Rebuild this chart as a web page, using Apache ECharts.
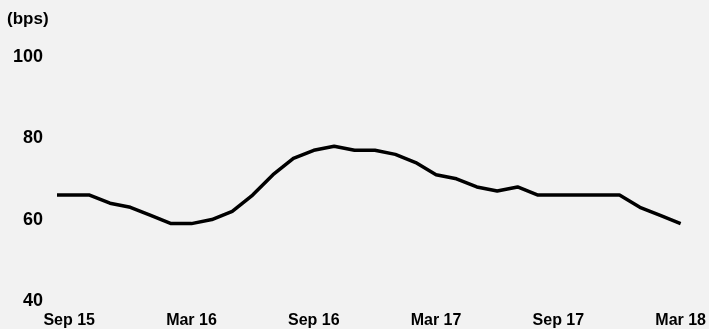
<!DOCTYPE html>
<html>
<head>
<meta charset="utf-8">
<script src="https://cdn.jsdelivr.net/npm/echarts@6/dist/echarts.min.js"></script>
<style>
html,body{margin:0;padding:0;background:#f2f2f2;}
#chart{width:709px;height:329px;}
</style>
</head>
<body>
<div id="chart"></div>
<script>
var months = ['Aug 15','Sep 15','Oct 15','Nov 15','Dec 15','Jan 16','Feb 16','Mar 16','Apr 16','May 16','Jun 16','Jul 16','Aug 16','Sep 16','Oct 16','Nov 16','Dec 16','Jan 17','Feb 17','Mar 17','Apr 17','May 17','Jun 17','Jul 17','Aug 17','Sep 17','Oct 17','Nov 17','Dec 17','Jan 18','Feb 18','Mar 18'];
var spreadBps = [66,66,66,64,63,61,59,59,60,62,66,71,75,77,78,77,77,76,74,71,70,68,67,68,66,66,66,66,66,63,61,59];
var xTickLabels = ['Sep 15','Mar 16','Sep 16','Mar 17','Sep 17','Mar 18'];
var yTicks = [40,60,80,100];
var unitLabel = '(bps)';

var firstTick = months.indexOf(xTickLabels[0]);
var seriesData = spreadBps.map(function(v,i){ return [i - firstTick, v]; });
var tickPos = xTickLabels.map(function(l){ return months.indexOf(l) - firstTick; });
var lastPos = months.length - 1 - firstTick;

var chart = echarts.init(document.getElementById('chart'), null, {renderer:'canvas'});
chart.setOption({
  backgroundColor:'#f2f2f2',
  animation:false,
  textStyle:{fontFamily:'Liberation Sans, Arial, sans-serif'},
  grid:{left:59, right:28, top:56.6, bottom:27.3, containLabel:false},
  graphic:[{type:'text', left:7, top:11, style:{text:unitLabel, fill:'#000', font:'bold 17px "Liberation Sans", Arial, sans-serif'}}],
  xAxis:{
    type:'value', min:-0.5, max:lastPos,
    axisLine:{show:false}, axisTick:{show:false}, splitLine:{show:false},
    axisLabel:{
      customValues: tickPos,
      showMinLabel:true, showMaxLabel:true,
      margin:12, color:'#000', fontWeight:'bold', fontSize:16,
      formatter:function(v){ var i = tickPos.indexOf(v); return i>=0 ? xTickLabels[i] : ''; }
    }
  },
  yAxis:{
    type:'value', min:yTicks[0], max:yTicks[yTicks.length-1], interval:20,
    axisLine:{show:false}, axisTick:{show:false}, splitLine:{show:false},
    axisLabel:{margin:16, color:'#000', fontWeight:'bold', fontSize:18}
  },
  series:[{
    type:'line', data:seriesData, showSymbol:false, clip:true,
    lineStyle:{color:'#000', width:3.5}
  }]
});
</script>
</body>
</html>
